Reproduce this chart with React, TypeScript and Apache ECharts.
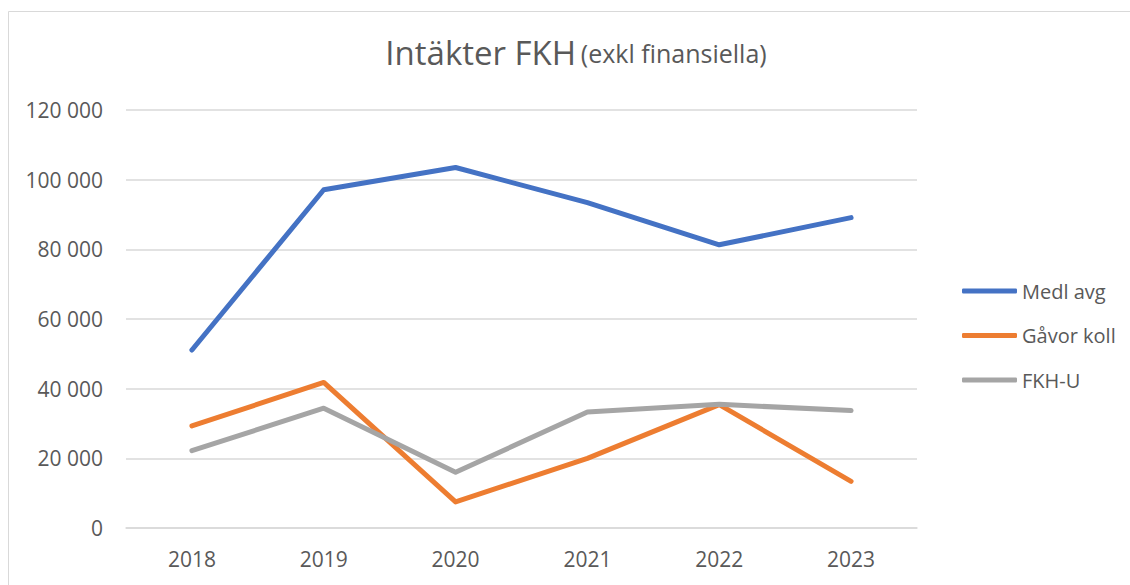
import React, { useEffect, useRef } from "react";
import * as echarts from "echarts";

const years = ["2018", "2019", "2020", "2021", "2022", "2023"];
const medlAvg = [51100, 97100, 103500, 93400, 81300, 89100];
const gavorKoll = [29300, 41800, 7500, 20000, 35400, 13400];
const fkhU = [22200, 34400, 16000, 33300, 35500, 33700];
const seriesNames = ["Medl avg", "Gåvor koll", "FKH-U"];
const seriesColors = ["#4472C4", "#ED7D31", "#A5A5A5"];

const FONT = "'Open Sans', 'Noto Sans', sans-serif";
const TEXT = "#595959";

function fmt(v: number): string {
  return String(v).replace(/\B(?=(\d{3})+(?!\d))/g, " ");
}

export default function App() {
  const ref = useRef<HTMLDivElement>(null);
  useEffect(() => {
    if (!ref.current) return;
    const chart = echarts.init(ref.current, undefined, { renderer: "svg" });
    const data = [medlAvg, gavorKoll, fkhU];
    chart.setOption({
      animation: false,
      backgroundColor: "#ffffff",
      textStyle: { fontFamily: FONT, color: TEXT },
      graphic: [
        {
          type: "rect",
          shape: { x: 8.5, y: 11.5, width: 1400, height: 800 },
          style: { fill: "none", stroke: "#D9D9D9", lineWidth: 1 },
          silent: true,
        },
      ],
      title: {
        text: "{a|Intäkter FKH} {b|(exkl finansiella)}",
        left: 571,
        textAlign: "center",
        top: 31,
        textStyle: {
          rich: {
            a: { fontFamily: FONT, fontSize: 33, color: TEXT, fontWeight: 400 },
            b: { fontFamily: FONT, fontSize: 25, color: TEXT, fontWeight: 400 },
          },
        },
      },
      legend: {
        orient: "vertical",
        left: 957,
        top: 275,
        itemWidth: 55,
        itemHeight: 5,
        itemGap: 22.5,
        icon: "roundRect",
        data: seriesNames,
        textStyle: { fontFamily: FONT, fontSize: 20, color: TEXT, lineHeight: 22 },
      },
      grid: { left: 126, right: 213, top: 110, bottom: 57, containLabel: false },
      xAxis: {
        type: "category",
        data: years,
        boundaryGap: true,
        axisLine: { show: true, lineStyle: { color: "#D9D9D9", width: 1.5 } },
        axisTick: { show: false },
        axisLabel: { fontFamily: FONT, fontSize: 21, color: TEXT, margin: 20 },
      },
      yAxis: {
        type: "value",
        min: 0,
        max: 120000,
        interval: 20000,
        axisLine: { show: false },
        axisTick: { show: false },
        splitLine: { lineStyle: { color: "#D9D9D9", width: 1.5 } },
        axisLabel: {
          fontFamily: FONT,
          fontSize: 21,
          color: TEXT,
          margin: 23,
          formatter: (v: number) => fmt(v),
        },
      },
      series: seriesNames.map((name, i) => ({
        name,
        type: "line",
        data: data[i],
        symbol: "none",
        showSymbol: false,
        color: seriesColors[i],
        lineStyle: { width: 5, color: seriesColors[i], cap: "round", join: "round" },
        itemStyle: { color: seriesColors[i] },
      })),
    });
    return () => chart.dispose();
  }, []);
  return (
    <div
      ref={ref}
      style={{ position: "absolute", left: 0, top: 0, width: 1130, height: 585 }}
    />
  );
}
